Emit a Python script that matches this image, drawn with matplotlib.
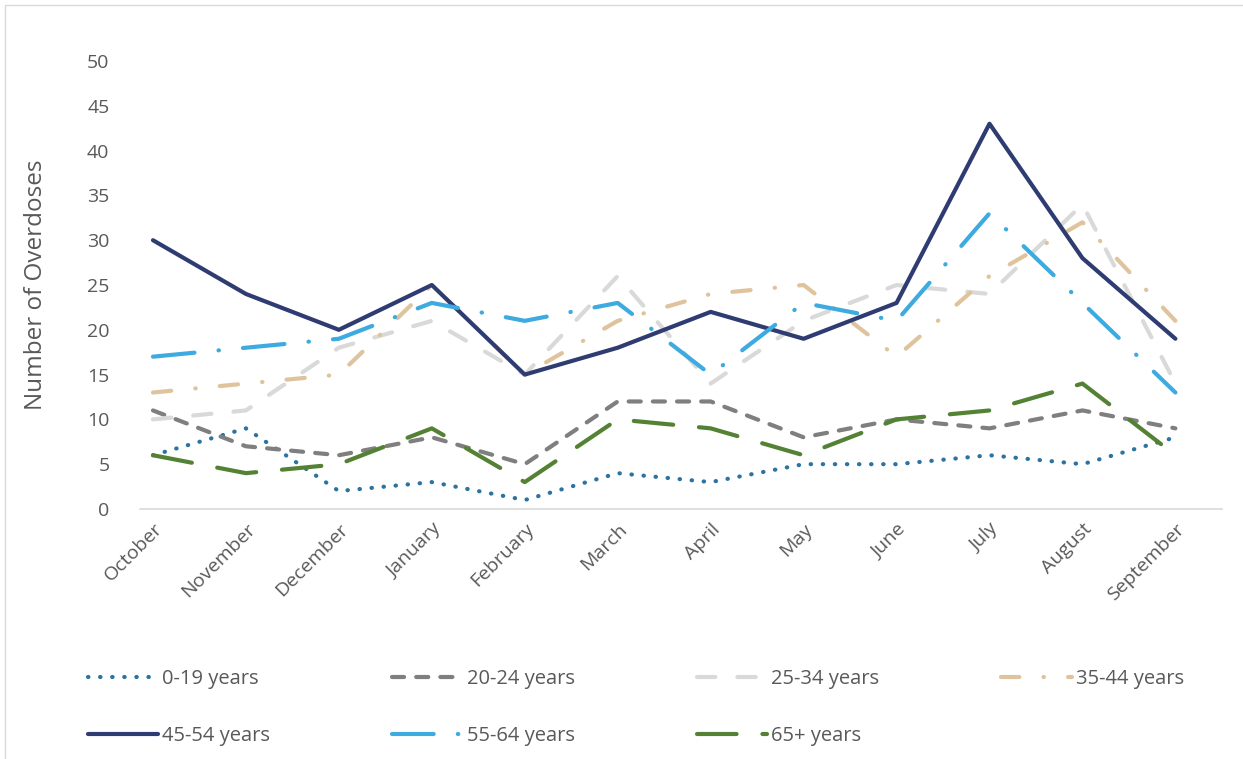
import matplotlib
matplotlib.use("Agg")
import matplotlib.pyplot as plt
from matplotlib.patches import Rectangle

plt.rcParams["font.family"] = ["Open Sans", "DejaVu Sans"]

months = ["October", "November", "December", "January", "February", "March",
          "April", "May", "June", "July", "August", "September"]

age_0_19 = [6, 9, 2, 3, 1, 4, 3, 5, 5, 6, 5, 8]
age_20_24 = [11, 7, 6, 8, 5, 12, 12, 8, 10, 9, 11, 9]
age_25_34 = [10, 11, 18, 21, 15, 26, 14, 21, 25, 24, 34, 14]
age_35_44 = [13, 14, 15, 25, 15, 21, 24, 25, 17, 26, 32, 21]
age_45_54 = [30, 24, 20, 25, 15, 18, 22, 19, 23, 43, 28, 19]
age_55_64 = [17, 18, 19, 23, 21, 23, 15, 23, 21, 33, 23, 13]
age_65_up = [6, 4, 5, 9, 3, 10, 9, 6, 10, 11, 14, 6]

labels = ["0-19 years", "20-24 years", "25-34 years", "35-44 years",
          "45-54 years", "55-64 years", "65+ years"]

text_col = "#595959"
lw = 3.0

styles = [
    ("#2B73A0", (0, (0.1, 2.8))),
    ("#7F7F7F", (0, (2.9, 2.9))),
    ("#D9D9D9", (0, (4.4, 5.3))),
    ("#DFC39D", (0, (4.4, 5.8, 0.1, 5.8))),
    ("#2E3C72", "-"),
    ("#3DAAE0", (0, (10.0, 5.8, 0.1, 5.8))),
    ("#548235", (0, (9.5, 6.2))),
]
series = [age_0_19, age_20_24, age_25_34, age_35_44, age_45_54, age_55_64, age_65_up]

fig = plt.figure(figsize=(12.43, 7.59), dpi=100)
ax = fig.add_axes([0.1126, 0.3294, 0.8704, 0.5902])

x = list(range(len(months)))
for vals, (col, ls), lab in zip(series, styles, labels):
    ax.plot(x, vals, color=col, linestyle=ls, lw=lw, label=lab,
            dash_capstyle="round", solid_capstyle="round",
            dash_joinstyle="round", solid_joinstyle="round")

ax.set_xlim(-0.14, 11.5)
ax.set_ylim(0, 50)
ax.set_yticks(range(0, 51, 5))
ax.set_xticks(x)
ax.set_xticklabels(months, rotation=45, ha="right", rotation_mode="anchor")
ax.tick_params(axis="both", length=0, labelsize=14, colors=text_col)
ax.tick_params(axis="y", pad=22)
ax.tick_params(axis="x", pad=8)
for s in ["top", "right", "left"]:
    ax.spines[s].set_visible(False)
ax.spines["bottom"].set_color("#D9D9D9")
ax.spines["bottom"].set_linewidth(1.2)
ax.set_ylabel("Number of Overdoses", fontsize=17.5, color=text_col)
ax.yaxis.set_label_coords(-0.085, 0.5)

# legend is filled column by column, so reorder to read row by row
handles, labs = ax.get_legend_handles_labels()
order = [0, 4, 1, 5, 2, 6, 3]
leg = fig.legend([handles[i] for i in order], [labs[i] for i in order],
                 loc="lower left", ncol=4, mode="expand",
                 bbox_to_anchor=(0.064, 0.006, 0.895, 0.14), frameon=False,
                 fontsize=14.5, handlelength=3.5, handletextpad=0.2,
                 labelspacing=1.85, borderaxespad=0)
for t in leg.get_texts():
    t.set_color(text_col)

fig.patches.append(Rectangle((0.004, -0.01), 1.1, 1.003, transform=fig.transFigure,
                             fill=False, edgecolor="#D9D9D9", lw=1.0))

fig.savefig("out.png", dpi=100)
